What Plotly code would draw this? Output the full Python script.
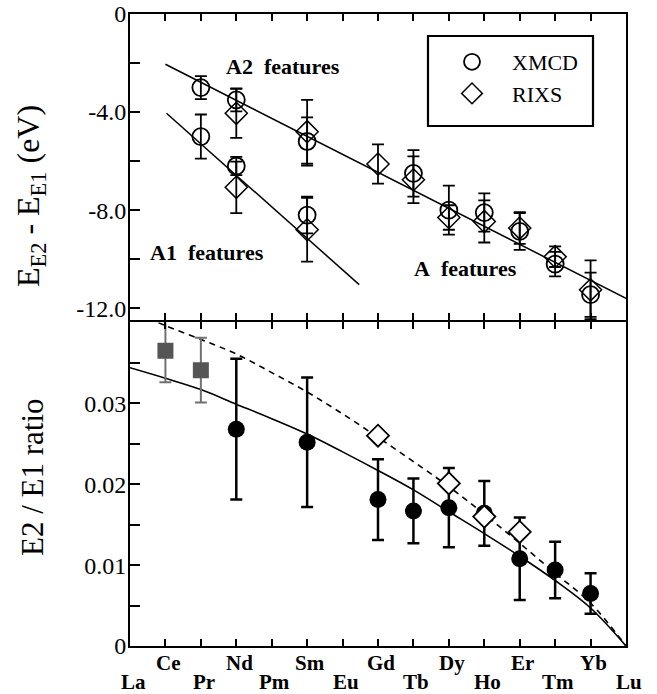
import plotly.graph_objects as go

elements = ["La", "Ce", "Pr", "Nd", "Pm", "Sm", "Eu", "Gd", "Tb", "Dy", "Ho", "Er", "Tm", "Yb", "Lu"]
upper_row = ["Ce", "Nd", "Sm", "Gd", "Dy", "Er", "Yb"]
lower_row = ["La", "Pr", "Pm", "Eu", "Tb", "Ho", "Tm", "Lu"]

# ---- top panel: E_E2 - E_E1 (eV) ----
xmcd_a2_el = ["Pr", "Nd", "Sm"]
xmcd_a2 = [-3.0, -3.5, -5.2]
xmcd_a2_err = [0.47, 0.47, 0.98]
rixs_a2_el = ["Nd", "Sm"]
rixs_a2 = [-4.05, -4.8]
rixs_a2_err = [1.0, 1.3]

xmcd_a1_el = ["Pr", "Nd", "Sm"]
xmcd_a1 = [-5.0, -6.2, -8.2]
xmcd_a1_err = [0.9, 0.37, 0.75]
rixs_a1_el = ["Nd", "Sm"]
rixs_a1 = [-7.07, -8.8]
rixs_a1_err = [1.05, 1.3]

xmcd_a_el = ["Tb", "Dy", "Ho", "Er", "Tm", "Yb"]
xmcd_a = [-6.5, -8.0, -8.1, -8.87, -10.2, -11.45]
xmcd_a_err = [0.95, 1.0, 0.78, 0.75, 0.5, 0.9]
rixs_a_el = ["Gd", "Tb", "Dy", "Ho", "Er", "Tm", "Yb"]
rixs_a = [-6.12, -6.76, -8.3, -8.46, -8.73, -9.9, -11.25]
rixs_a_err = [0.8, 0.95, 0.5, 0.86, 0.65, 0.42, 1.2]

# fitted lines (endpoints, element index, value)
fit_a2_x = [1.0, 14.0]
fit_a2_y = [-2.05, -11.6]
fit_a1_x = [1.03, 6.47]
fit_a1_y = [-4.05, -11.04]

# ---- bottom panel: E2 / E1 ratio ----
sq_el = ["Ce", "Pr"]
sq_val = [0.0365, 0.0341]
sq_err = [0.0039, 0.004]
circ_el = ["Nd", "Sm", "Gd", "Tb", "Dy", "Ho", "Er", "Tm", "Yb"]
circ_val = [0.0268, 0.0252, 0.0181, 0.0167, 0.0171, 0.0164, 0.0108, 0.0094, 0.0065]
circ_err = [0.0087, 0.008, 0.005, 0.004, 0.0049, 0.004, 0.0051, 0.0035, 0.0025]
dia_el = ["Gd", "Dy", "Ho", "Er"]
dia_val = [0.026, 0.0201, 0.016, 0.0141]

solid_x = [0, 1, 2, 3, 4, 5, 6, 7, 8, 9, 10, 11, 12, 13, 14]
solid_y = [0.0344, 0.0331, 0.0317, 0.0299, 0.0281, 0.0262, 0.0240, 0.0217, 0.0193,
           0.0166, 0.0139, 0.0111, 0.0081, 0.0047, 0.0]
dash_x = [0.8, 1, 2, 3, 4, 5, 6, 7, 8, 9, 10, 11, 12, 13, 14]
dash_y = [0.0400, 0.0396, 0.0379, 0.0361, 0.0338, 0.0314, 0.0287, 0.0258, 0.0228,
          0.0197, 0.0163, 0.0127, 0.0090, 0.0053, 0.0]

idx = {e: i for i, e in enumerate(elements)}
def xs(els):
    return [idx[e] for e in els]

FONT = "Liberation Serif, Times New Roman, Times, serif"
fig = go.Figure()

# top panel lines
fig.add_trace(go.Scatter(x=fit_a2_x, y=fit_a2_y, mode="lines", line=dict(color="black", width=1.5),
                         showlegend=False, xaxis="x", yaxis="y"))
fig.add_trace(go.Scatter(x=fit_a1_x, y=fit_a1_y, mode="lines", line=dict(color="black", width=1.5),
                         showlegend=False, xaxis="x", yaxis="y"))

xmcd_x = xs(xmcd_a2_el) + xs(xmcd_a1_el) + xs(xmcd_a_el)
xmcd_y = xmcd_a2 + xmcd_a1 + xmcd_a
xmcd_e = xmcd_a2_err + xmcd_a1_err + xmcd_a_err
rixs_x = xs(rixs_a2_el) + xs(rixs_a1_el) + xs(rixs_a_el)
rixs_y = rixs_a2 + rixs_a1 + rixs_a
rixs_e = rixs_a2_err + rixs_a1_err + rixs_a_err

fig.add_trace(go.Scatter(x=xmcd_x, y=xmcd_y, mode="markers", name="XMCD",
                         marker=dict(symbol="circle-open", size=17, color="black", line=dict(width=1.8)),
                         error_y=dict(type="data", array=xmcd_e, color="black", thickness=1.8, width=6),
                         xaxis="x", yaxis="y"))
fig.add_trace(go.Scatter(x=rixs_x, y=rixs_y, mode="markers", name="RIXS",
                         marker=dict(symbol="diamond-open", size=17, color="black", line=dict(width=1.5)),
                         error_y=dict(type="data", array=rixs_e, color="black", thickness=1.8, width=6),
                         xaxis="x", yaxis="y"))

# bottom panel
fig.add_trace(go.Scatter(x=solid_x, y=solid_y, mode="lines", line=dict(color="black", width=1.6, shape="spline"),
                         showlegend=False, xaxis="x2", yaxis="y2"))
fig.add_trace(go.Scatter(x=dash_x, y=dash_y, mode="lines",
                         line=dict(color="black", width=1.6, dash="6px,5px", shape="spline"),
                         showlegend=False, xaxis="x2", yaxis="y2"))
fig.add_trace(go.Scatter(x=xs(sq_el), y=sq_val, mode="markers", showlegend=False,
                         marker=dict(symbol="square", size=16, color="#555555"),
                         error_y=dict(type="data", array=sq_err, color="#707070", thickness=2, width=6),
                         xaxis="x2", yaxis="y2"))
fig.add_trace(go.Scatter(x=xs(circ_el), y=circ_val, mode="markers", showlegend=False,
                         marker=dict(symbol="circle", size=17, color="black"),
                         error_y=dict(type="data", array=circ_err, color="black", thickness=2.5, width=6),
                         xaxis="x2", yaxis="y2"))
fig.add_trace(go.Scatter(x=xs(dia_el), y=dia_val, mode="markers", showlegend=False,
                         marker=dict(symbol="diamond", size=17, color="white", line=dict(color="black", width=1.8)),
                         xaxis="x2", yaxis="y2"))

PLOT_H = 632.0
PLOT_W = 496.0
split = 0.5135
gap = 1.0 / PLOT_H
xcommon = dict(range=[0, 14], showline=True, linecolor="black", linewidth=2, mirror="ticks",
               ticks="inside", ticklen=7, tickwidth=1.8, tickcolor="black", automargin=False,
               tickvals=list(range(15)), showticklabels=False, showgrid=False, zeroline=False)
fig.update_layout(
    width=657, height=694,
    margin=dict(l=130, r=31, t=14, b=48),
    paper_bgcolor="white", plot_bgcolor="white",
    font=dict(family=FONT, color="black", size=24),
    xaxis=dict(anchor="y", **xcommon),
    xaxis2=dict(anchor="y2", matches="x", **xcommon),
    yaxis=dict(domain=[split + gap, 1], range=[-12.5, 0], showline=True, linecolor="black", linewidth=2,
               mirror=True, automargin=False,
               ticks="inside", ticklen=10, tickwidth=1.8, tickcolor="black",
               tickvals=[0, -4, -8, -12], ticktext=["0", "-4.0", "-8.0", "-12.0"],
               minor=dict(tickvals=[-2, -6, -10], ticks="inside", ticklen=10, tickwidth=1.8, tickcolor="black"),
               showgrid=False, zeroline=False, ticklabelstandoff=-3,
               tickfont=dict(size=24, family=FONT)),
    yaxis2=dict(domain=[0, split - gap], range=[0, 0.04], showline=True, linecolor="black", linewidth=2,
                mirror=True, automargin=False,
                ticks="inside", ticklen=10, tickwidth=1.8, tickcolor="black",
                tickvals=[0, 0.01, 0.02, 0.03], ticktext=["0", "0.01", "0.02", "0.03"],
                minor=dict(tickvals=[0.005, 0.015, 0.025, 0.035], ticks="inside", ticklen=10, tickwidth=1.8,
                           tickcolor="black"),
                showgrid=False, zeroline=False, ticklabelstandoff=-3,
                tickfont=dict(size=24, family=FONT)),
    showlegend=True,
    legend=dict(x=(432 - 130) / PLOT_W, y=1 - (41 - 14) / PLOT_H, xanchor="left", yanchor="top",
                bgcolor="rgba(0,0,0,0)", borderwidth=0, font=dict(size=22, family=FONT),
                itemwidth=70, tracegroupgap=0),
)

# y-axis titles
fig.add_annotation(x=(30 - 130) / PLOT_W, y=1 - (196 - 14) / PLOT_H, xref="paper", yref="paper",
                   xanchor="center", yanchor="middle", textangle=-90, showarrow=False,
                   text="E<sub>E2</sub> - E<sub>E1</sub> (eV)", font=dict(size=32, family=FONT))
fig.add_annotation(x=(32 - 130) / PLOT_W, y=1 - (477 - 14) / PLOT_H, xref="paper", yref="paper",
                   xanchor="center", yanchor="middle", textangle=-90, showarrow=False,
                   text="E2 / E1 ratio", font=dict(size=31, family=FONT))

# legend frame
fig.add_shape(type="rect", xref="paper", yref="paper",
              x0=(428 - 130) / PLOT_W, x1=(593 - 130) / PLOT_W,
              y0=1 - (126 - 14) / PLOT_H, y1=1 - (36 - 14) / PLOT_H,
              line=dict(color="black", width=2.2), fillcolor="rgba(0,0,0,0)")

# feature labels
feat = [("A2\u00a0\u00a0features", 4.32, -2.15), ("A1\u00a0\u00a0features", 2.17, -9.71),
        ("A\u00a0\u00a0features", 9.47, -10.4)]
for txt, fx, fy in feat:
    fig.add_annotation(x=fx, y=fy, xref="x", yref="y", text="<b>" + txt + "</b>", showarrow=False,
                       font=dict(size=22, family=FONT))

# element labels
for e in upper_row:
    fig.add_annotation(x=idx[e], y=0, xref="x2", yref="paper", yanchor="middle", yshift=-17, xshift=3,
                       text="<b>" + e + "</b>", showarrow=False, font=dict(size=21, family=FONT))
for e in lower_row:
    fig.add_annotation(x=idx[e], y=0, xref="x2", yref="paper", yanchor="middle", yshift=-36, xshift=3,
                       text="<b>" + e + "</b>", showarrow=False, font=dict(size=21, family=FONT))

fig.write_html("out.html")
